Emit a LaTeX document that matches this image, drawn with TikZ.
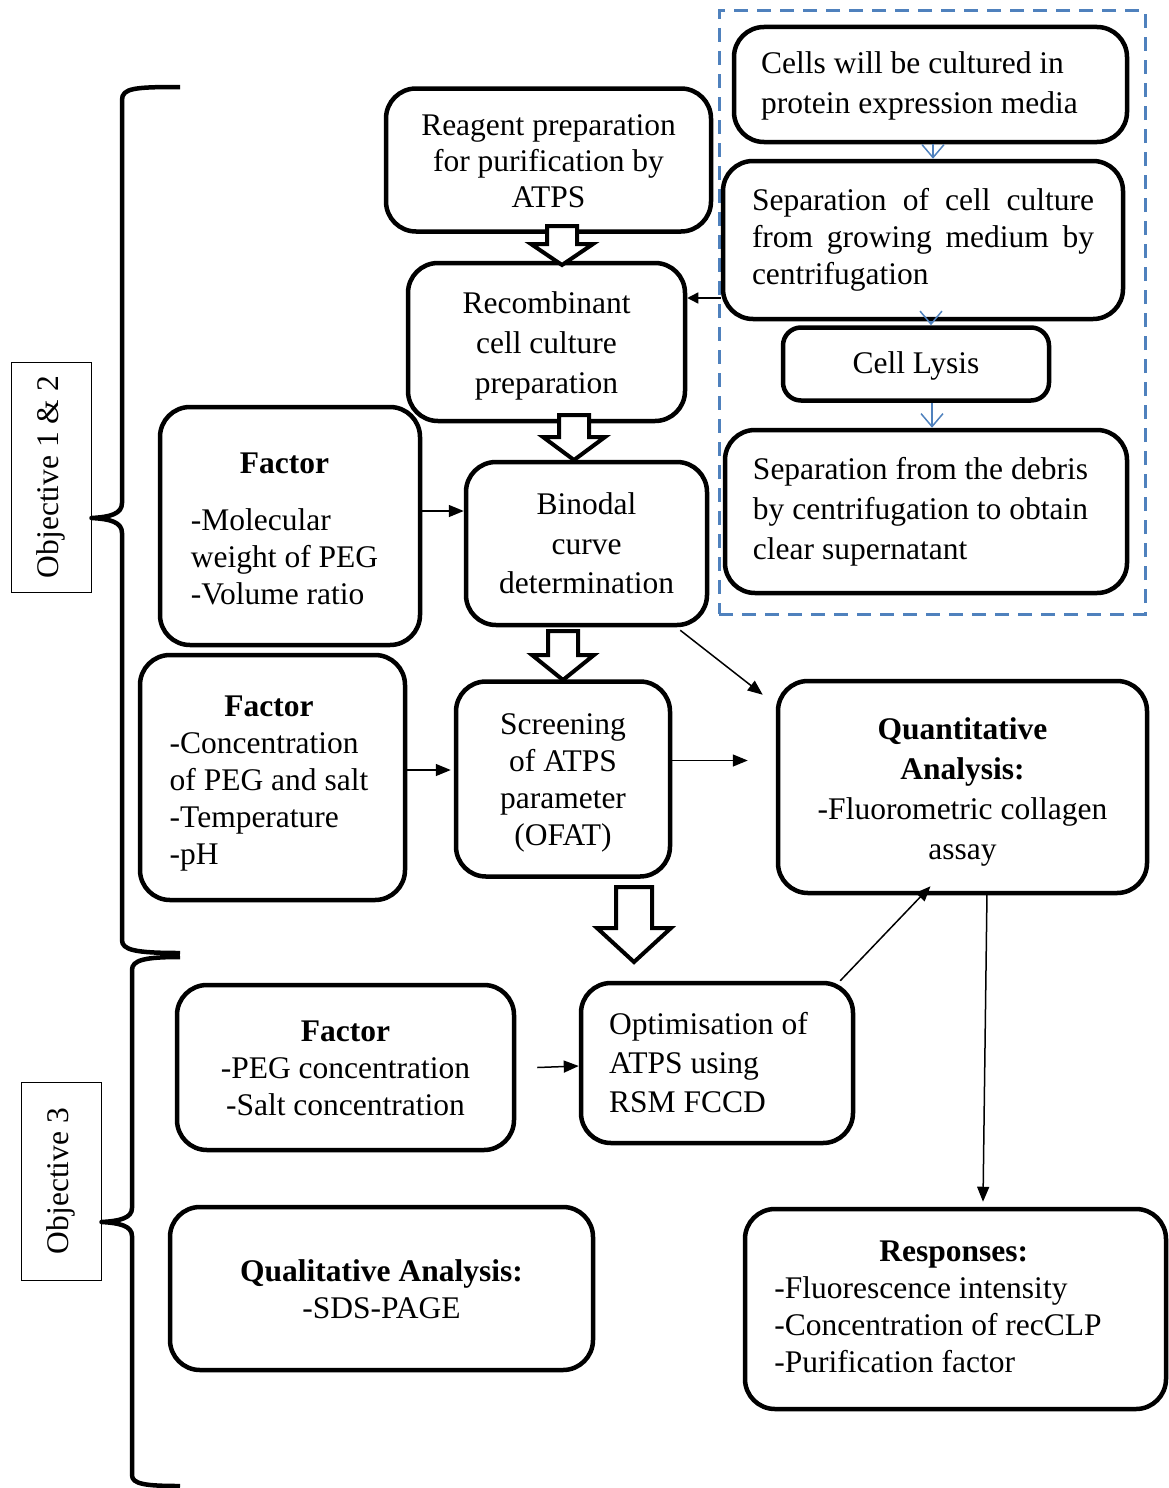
\documentclass[tikz,border=0pt]{standalone}
\usepackage{fontspec}
\setmainfont{Liberation Serif}
\usetikzlibrary{arrows.meta}
\definecolor{dashblue}{RGB}{79,129,189}
\newcommand\fsA{\fontsize{31.5}{37}\selectfont}
\newcommand\fsB{\fontsize{31.5}{40}\selectfont}
\newcommand\tbl[1]{\begin{tabular}{@{}l@{}}#1\end{tabular}}
\newcommand\ctbl[1]{\begin{tabular}{@{}c@{}}#1\end{tabular}}
\newcommand\ctr[1]{\multicolumn{1}{@{}c@{}}{#1}}
\newcommand\dn[2]{\raisebox{-#1}[\height][\depth]{#2}}
\newcommand\hollowarr[6]{%
  \draw[hollow] (#1-#5,#2) -- (#1+#5,#2) -- (#1+#5,#3) -- (#1+#6,#3) -- (#1,#4) -- (#1-#6,#3) -- (#1-#5,#3) -- cycle;}
\begin{document}
\begin{tikzpicture}[x=1pt,y=-1pt,
  box/.style={draw, line width=4.5pt, rounded corners=30pt, inner sep=0pt, font=\fsA},
  objbox/.style={draw, line width=1pt, rotate=90, inner sep=0pt, font=\fsA, minimum height=80pt},
  brace/.style={line width=4.5pt, line join=round},
  arr/.style={-{Triangle[length=15pt,width=12pt]}, line width=1.5pt},
  barb/.style={-{Straight Barb[length=13pt,width=22pt,line width=1.5pt]}, draw=dashblue, line width=1.2pt},
  hollow/.style={draw, fill=white, line width=4pt, line join=miter}]
\useasboundingbox (0,0) rectangle (1168,1488);

% dashed group frame
\node[draw=dashblue, line width=3pt, dash pattern=on 14pt off 9pt, inner sep=0pt,
  minimum width=426pt, minimum height=603pt] (grp) at (932,312.5) {};

% boxes
\node[box, minimum width=325pt, minimum height=143pt, font=\fontsize{31.5}{36}\selectfont]
  (reag) at (548.5,160) {\dn{4pt}{\ctbl{Reagent preparation\\for purification by\\ATPS}}};
\node[box, minimum width=277pt, minimum height=158pt, font=\fsB]
  (rec) at (546.5,342) {\dn{3pt}{\ctbl{Recombinant\\cell culture\\preparation}}};
\node[box, minimum width=393pt, minimum height=115pt, font=\fsB]
  (cells) at (930.5,84.5) {\dn{1pt}{\tbl{Cells will be cultured in\\protein expression media}}\hspace*{22pt}};
\node[box, minimum width=400pt, minimum height=158pt, text width=342pt, align=justify]
  (sep) at (923,240) {Separation of cell culture\linebreak from growing medium by\linebreak centrifugation};
\node[box, rounded corners=18pt, minimum width=266pt, minimum height=73pt]
  (lysis) at (916,364) {\dn{2pt}{Cell Lysis}};
\node[box, minimum width=402pt, minimum height=163pt, font=\fsB]
  (debris) at (926,511.5) {\tbl{Separation from the debris\\by centrifugation to obtain\\clear supernatant}\hspace*{11pt}};
\node[box, minimum width=260pt, minimum height=238pt]
  (fac1) at (290,526) {\dn{6pt}{\tbl{\ctr{\textbf{Factor}}\\[20pt]-Molecular\\weight of PEG\\-Volume ratio}}\hspace*{11pt}};
\node[box, minimum width=241pt, minimum height=163pt, font=\fontsize{31.5}{39.5}\selectfont]
  (bin) at (586.5,543.5) {\dn{3pt}{\ctbl{Binodal\\curve\\determination}}};
\node[box, minimum width=265pt, minimum height=245pt]
  (fac2) at (272.5,777.5) {\dn{6pt}{\tbl{\ctr{\textbf{Factor}}\\-Concentration\\of PEG and salt\\-Temperature\\-pH}}\hspace*{7pt}};
\node[box, minimum width=214pt, minimum height=195pt]
  (scr) at (563,779) {\dn{4pt}{\ctbl{Screening\\of ATPS\\parameter\\(OFAT)}}};
\node[box, minimum width=369pt, minimum height=212pt, font=\fsB]
  (quant) at (962.5,787) {\dn{4pt}{\ctbl{\textbf{Quantitative}\\\textbf{Analysis:}\\-Fluorometric collagen\\assay}}};
\node[box, minimum width=337pt, minimum height=165pt]
  (fac3) at (345.5,1067.5) {\dn{4pt}{\ctbl{\textbf{Factor}\\-PEG concentration\\-Salt concentration}}};
\node[box, minimum width=272pt, minimum height=160pt, font=\fontsize{31.5}{39}\selectfont]
  (opt) at (717,1063) {\dn{3pt}{\tbl{Optimisation of\\ATPS using\\RSM FCCD}}\hspace*{17pt}};
\node[box, minimum width=423pt, minimum height=163pt]
  (qual) at (381.5,1288.5) {\dn{4pt}{\ctbl{\textbf{Qualitative Analysis:}\\-SDS-PAGE}}};
\node[box, minimum width=421pt, minimum height=200pt]
  (resp) at (955.5,1309) {\dn{1pt}{\tbl{\hspace*{105pt}\textbf{Responses:}\\-Fluorescence intensity\\-Concentration of recCLP\\-Purification factor}}\hspace*{35pt}};

% objective labels
\node[objbox, minimum width=230pt] (obj1) at (51,477) {Objective 1 \& 2};
\node[objbox, minimum width=198pt] (obj2) at (61,1181) {Objective 3};

% braces
\draw[brace] (180,87) .. controls (135,87) and (122,88) .. (122,100) -- (122,503)
  .. controls (122,514) and (110,517) .. (obj1.south |- 0,518)
  .. controls (110,519) and (122,522) .. (122,533) -- (122,940)
  .. controls (122,950) and (135,953) .. (180,953);
\draw[brace] (180,957) .. controls (145,957) and (132,960) .. (132,970) -- (132,1208)
  .. controls (132,1218) and (120,1221) .. (obj2.south |- 0,1222)
  .. controls (120,1223) and (132,1226) .. (132,1236) -- (132,1475)
  .. controls (132,1484) and (145,1486) .. (180,1486);

% hollow block arrows
\hollowarr{562}{226}{244}{265}{15}{31}
\hollowarr{574}{415}{437}{460}{15}{31}
\hollowarr{563}{631}{655}{680}{15}{31}
\hollowarr{634}{887}{928}{962}{18}{37}

% blue arrows
\draw[barb] ([xshift=2.5pt]cells.south) -- ([xshift=2.5pt]cells.south |- sep.north);
\draw[barb] ([xshift=8pt]sep.south) -- ([xshift=8pt]sep.south |- lysis.north);
\draw[barb] ([xshift=16pt]lysis.south) -- ([xshift=16pt]lysis.south |- debris.north);

% thin black arrows
\draw[-{Triangle[length=11pt,width=11pt]}, line width=1.5pt]
  ([yshift=-58pt]sep.west) -- ([yshift=-58pt]sep.west -| rec.east);
\draw[arr] ([yshift=15pt]fac1.east) -- ([yshift=15pt]fac1.east -| bin.west);
\draw[arr] ([xshift=-29pt,yshift=-3pt]bin.south east) -- ([xshift=-13pt,yshift=-16pt]quant.north west);
\draw[arr] ([yshift=7.5pt]fac2.east) -- ([yshift=7.5pt,xshift=-3pt]fac2.east -| scr.west);
\draw[arr] ([yshift=18.5pt]scr.east) -- ([yshift=18.5pt,xshift=-28pt]scr.east -| quant.west);
\draw[arr] ([xshift=21pt]fac3.east) -- ([yshift=-3pt]opt.west);
\draw[arr] ([xshift=-15pt]opt.north east) -- ([xshift=-32pt,yshift=9pt]quant.south);
\draw[arr] ([xshift=24.5pt,yshift=3pt]quant.south) -- ([xshift=27.5pt,yshift=5pt]resp.north);
\end{tikzpicture}
\end{document}
